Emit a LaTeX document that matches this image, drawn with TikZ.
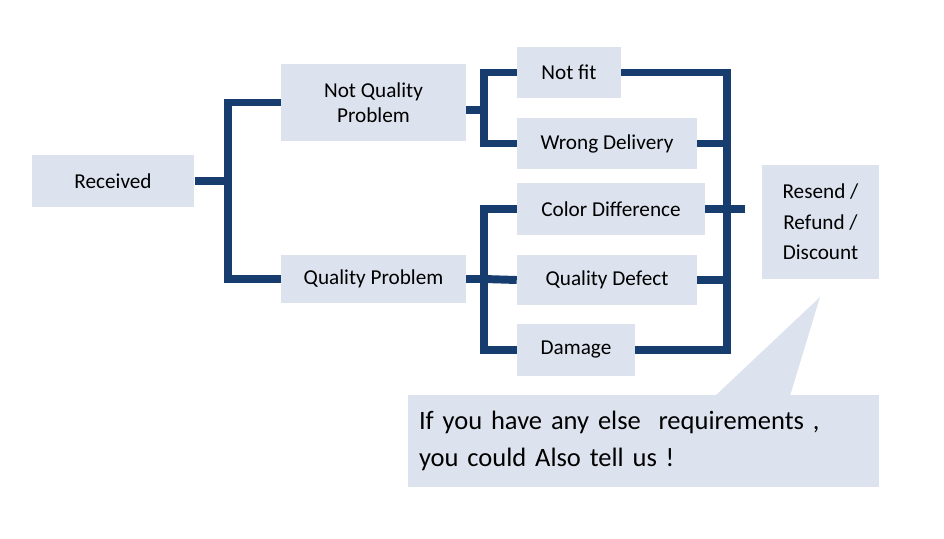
\documentclass[tikz,border=0pt]{standalone}
\usepackage{fontspec}
\setmainfont{Carlito}
\usetikzlibrary{positioning}
\definecolor{boxfill}{HTML}{DDE3EE}
\definecolor{linkblue}{HTML}{173C6E}
\tikzset{
  box/.style={fill=boxfill, draw=none, inner sep=0pt, align=center, font=\fontsize{16}{19}\selectfont},
  link/.style={draw=linkblue, line width=6pt}
}
\begin{document}
\begin{tikzpicture}[x=0.0265cm, y=-0.0265cm]
	\useasboundingbox (0,0) rectangle (944,539);
	
	\node[box, minimum width=163\pgflinewidth*0+4.32cm, minimum height=1.38cm] (rec) at (113,181) {Received};
	\node[box, minimum width=4.9cm, minimum height=2.04cm] (nqp) at (373.5,102.5) {Not Quality\\Problem};
	\node[box, minimum width=4.9cm, minimum height=1.27cm] (qp) at (373.5,279) {Quality Problem};
	
	\node[box, minimum width=2.76cm, minimum height=1.35cm] (fit) at (569,72.5) {Not fit};
	\node[box, minimum width=4.77cm, minimum height=1.35cm] (wd) at (607,143.5) {Wrong Delivery};
	\node[box, minimum width=4.98cm, minimum height=1.38cm] (cd) at (611,209) {Color Difference};
	\node[box, minimum width=4.77cm, minimum height=1.33cm] (qd) at (607,280) {Quality Defect};
	\node[box, minimum width=3.13cm, minimum height=1.38cm] (dm) at (576,350) {Damage};
	
	\node[box, minimum width=3.1cm, minimum height=3.02cm, font=\fontsize{16}{23}\selectfont] (res) at (820.5,222) {Resend /\\Refund /\\Discount};
	
	% callout
	\fill[boxfill] (715,396) -- (820,297) -- (790,396) -- cycle;
	\node[box, minimum width=12.48cm, minimum height=2.44cm, align=left, text width=11.9cm, font=\fontsize{20}{28}\selectfont] (note) at (643.5,441) {If you have any else\ \ requirements ,\\you could Also tell us !};
	
	% left tree
	\coordinate (j1) at (228,181);
	\draw[link] (rec.east) -- (j1);
	\draw[link] (nqp.west) -| (j1) |- (qp.west);
	
	\coordinate (j2) at (484,110);
	\draw[link] (nqp.east |- j2) -- (j2);
	\draw[link] (fit.west) -| (j2) |- (wd.west);
	
	\coordinate (j3) at (484,279);
	\draw[link] (qp.east) -- (j3);
	\draw[link] (cd.west) -| (j3) |- (dm.west);
	\draw[link] (j3) -- (qd.west);
	
	% right bus
	\coordinate (bt) at (727,72.5);
	\coordinate (bb) at (727,350);
	\coordinate (bo) at (745,209);
	\draw[link] (fit.east) -- (bt) -- (bb) -- (dm.east);
	\draw[link] (wd.east) -- (wd.east -| bt);
	\draw[link] (cd.east) -- (cd.east -| bt);
	\draw[link] (qd.east) -- (qd.east -| bt);
	\draw[link] (cd.east -| bt) -- (bo);
\end{tikzpicture}
\end{document}
